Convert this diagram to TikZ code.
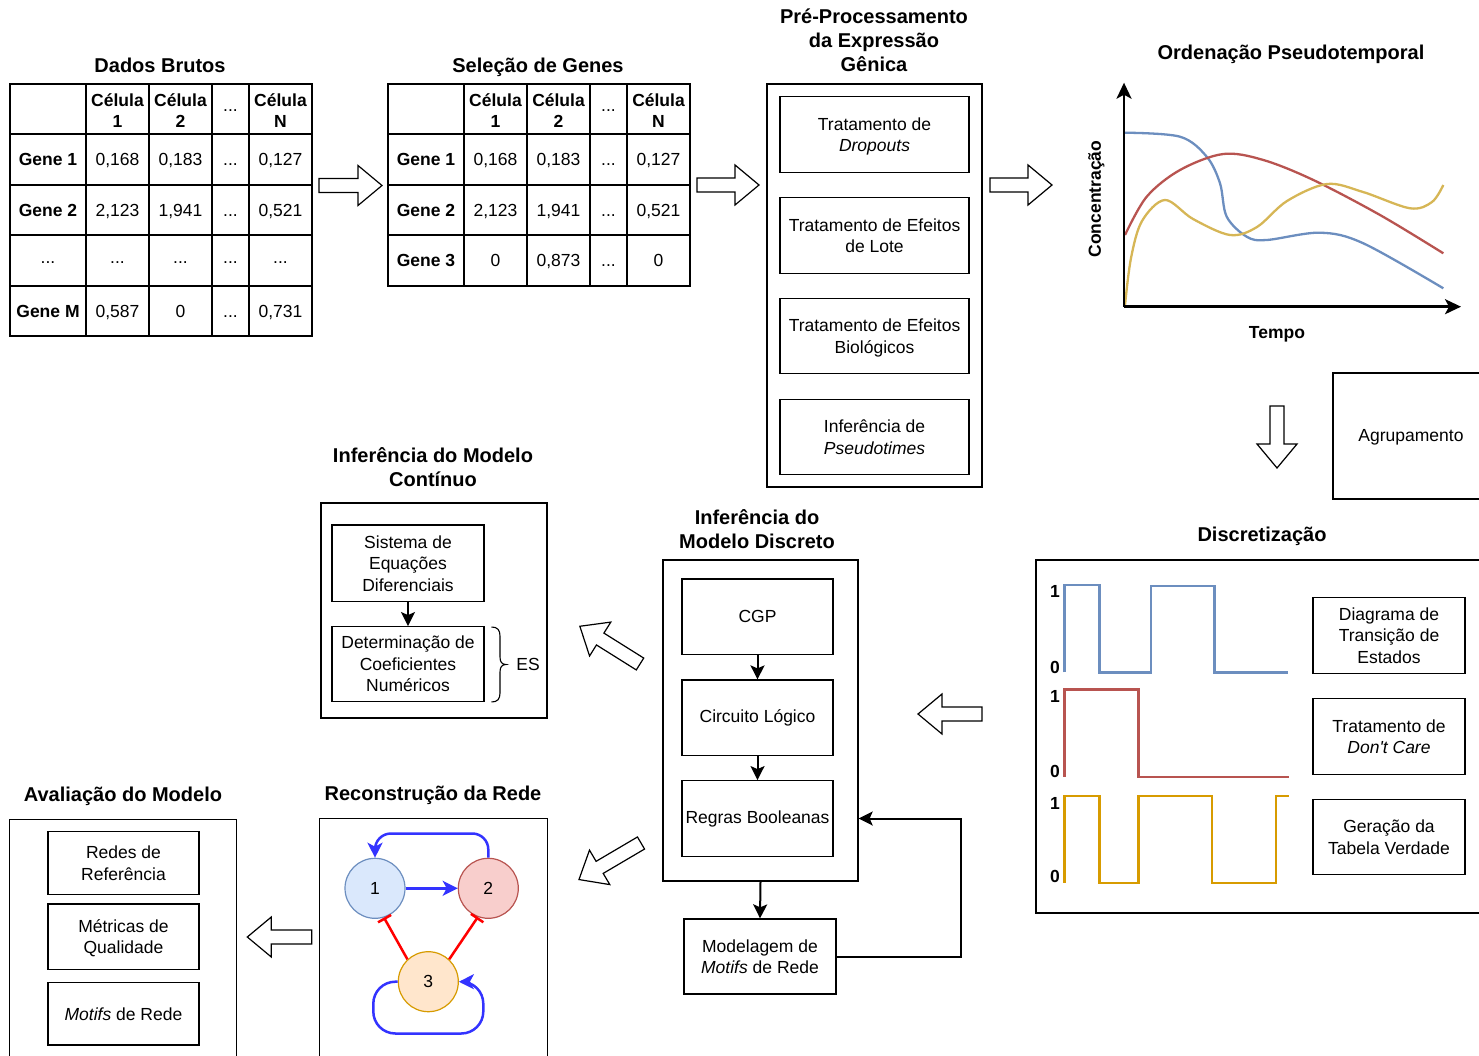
\documentclass[tikz,border=0pt]{standalone}
\usepackage{fontspec}
\setmainfont{Liberation Sans}
\usetikzlibrary{arrows.meta}

\definecolor{gblue}{HTML}{6C8EBF}
\definecolor{gred}{HTML}{B85450}
\definecolor{gyel}{HTML}{D6B656}
\definecolor{gorange}{HTML}{D79B00}
\definecolor{nfillA}{HTML}{DAE8FC}
\definecolor{nfillB}{HTML}{F8CECC}
\definecolor{nfillC}{HTML}{FFE6CC}
\definecolor{actblue}{HTML}{3333FF}
\definecolor{inhred}{HTML}{FF0000}

\tikzset{
  txt/.style={font=\fontsize{17.5}{21.5}\selectfont, align=center, inner sep=0pt},
  ttl/.style={font=\fontsize{20}{24}\selectfont\bfseries, align=center, inner sep=0pt},
  ttlone/.style={ttl, text height=14.5pt, text depth=4pt},
  box/.style={draw, line width=1.3pt, txt},
  frame/.style={draw, line width=1.3pt, inner sep=0pt},
  grid/.style={line width=1.3pt},
  cell/.style={txt, text height=12.6pt, text depth=3pt},
  hcell/.style={txt, font=\fontsize{17.5}{21}\selectfont\bfseries},
  hollow/.style={draw, line width=1.2pt, fill=white, line join=miter},
  flow/.style={line width=2pt, -{Stealth[length=14pt,width=14pt,inset=3pt]}},
  axis/.style={line width=2.5pt, -{Stealth[length=16pt,width=15pt,inset=4pt]}},
  curve/.style={line width=2.3pt, smooth, tension=0.55},
  sig/.style={line width=2.4pt, line join=miter},
  gnode/.style={circle, draw, line width=1.2pt, minimum size=60pt, txt},
  act/.style={actblue, line width=2.5pt, -{Stealth[length=15pt,width=15pt,inset=4pt]}},
  inh/.style={inhred, line width=2.5pt, -{Bar[width=15pt]}},
}

% block arrow: tail point, direction (degrees), length
\newcommand{\hollowarrow}[3]{%
  \begin{scope}[shift={#1},rotate=#2]
    \draw[hollow] (0,-7) -- ({#3-24},-7) -- ({#3-24},-20) -- (#3,0)
      -- ({#3-24},20) -- ({#3-24},7) -- (0,7) -- cycle;
  \end{scope}}

\begin{document}
\begin{tikzpicture}[x=1pt,y=-1pt]
\useasboundingbox (0,0) rectangle (1479,1056);

% ---------------- Dados Brutos ----------------
\node[ttlone] (rawttl) at (160,66.9) {Dados Brutos};
\draw[grid] (10,84) rectangle (312,336);
\foreach \x in {86,149,212,249} \draw[grid] (\x,84) -- (\x,336);
\foreach \y in {134,185,235,286} \draw[grid] (10,\y) -- (312,\y);
\node[hcell] (raw-h1) at (117.5,110.5) {Célula\\1};
\node[hcell] (raw-h2) at (180.5,110.5) {Célula\\2};
\node[cell]  (raw-h3) at (230.5,107) {...};
\node[hcell] (raw-h4) at (280.5,110.5) {Célula\\N};
\foreach \y/\r/\a/\b/\c/\d/\e in {
  161/1/{\bfseries Gene 1}/{0,168}/{0,183}/{...}/{0,127},
  211.5/2/{\bfseries Gene 2}/{2,123}/{1,941}/{...}/{0,521},
  259/3/{...}/{...}/{...}/{...}/{...},
  312.5/4/{\bfseries Gene M}/{0,587}/{0}/{...}/{0,731}}{
  \node[cell] (raw-\r-1) at (48,\y) {\a};
  \node[cell] (raw-\r-2) at (117.5,\y) {\b};
  \node[cell] (raw-\r-3) at (180.5,\y) {\c};
  \node[cell] (raw-\r-4) at (230.5,\y) {\d};
  \node[cell] (raw-\r-5) at (280.5,\y) {\e};
}

% ---------------- Seleção de Genes ----------------
\node[ttlone] (selttl) at (538,66.9) {Seleção de Genes};
\draw[grid] (388,84) rectangle (690,286);
\foreach \x in {464,527,590,627} \draw[grid] (\x,84) -- (\x,286);
\foreach \y in {134,185,235} \draw[grid] (388,\y) -- (690,\y);
\node[hcell] (sel-h1) at (495.5,110.5) {Célula\\1};
\node[hcell] (sel-h2) at (558.5,110.5) {Célula\\2};
\node[cell]  (sel-h3) at (608.5,107) {...};
\node[hcell] (sel-h4) at (658.5,110.5) {Célula\\N};
\foreach \y/\r/\a/\b/\c/\d/\e in {
  161/1/{Gene 1}/{0,168}/{0,183}/{...}/{0,127},
  211.5/2/{Gene 2}/{2,123}/{1,941}/{...}/{0,521},
  262/3/{Gene 3}/{0}/{0,873}/{...}/{0}}{
  \node[cell] (sel-\r-1) at (426,\y) {\bfseries\a};
  \node[cell] (sel-\r-2) at (495.5,\y) {\b};
  \node[cell] (sel-\r-3) at (558.5,\y) {\c};
  \node[cell] (sel-\r-4) at (608.5,\y) {\d};
  \node[cell] (sel-\r-5) at (658.5,\y) {\e};
}

% ---------------- Pré-Processamento ----------------
\node[ttl] (prettl) at (874,40) {Pré-Processamento\\da Expressão\\Gênica};
\node[frame, minimum width=215, minimum height=403] (pre) at (874.5,285.5) {};
\node[box, minimum width=189, minimum height=75.5] (pre1) at (874.5,134.5) {Tratamento de\\\smash{\textit{Dropouts}}};
\node[box, minimum width=189, minimum height=75.5] (pre2) at (874.5,235.5) {Tratamento de Efeitos\\de Lote};
\node[box, minimum width=189, minimum height=75.5] (pre3) at (874.5,336) {Tratamento de Efeitos\\\smash{Biológicos}};
\node[box, minimum width=189, minimum height=75.5] (pre4) at (874.5,437) {Inferência de\\\smash{\textit{Pseudotimes}}};

% ---------------- Ordenação Pseudotemporal ----------------
\node[ttlone] (ordttl) at (1291,53.9) {Ordenação Pseudotemporal};
\coordinate (orig) at (1124,306.7);
\coordinate (ytip) at (1124,82.7);
\coordinate (xtip) at (1461,306.7);
\draw[gblue, curve] plot coordinates {(1125,132.7) (1180,136.7) (1206.7,156.7) (1220,183.3)
  (1226.7,216.7) (1246.7,236.7) (1266.7,240) (1320,232.7) (1363.3,243.3) (1443.3,288.3)};
\draw[gred, curve] plot coordinates {(1125,235) (1146.7,196.7) (1180,170) (1223.3,154)
  (1263.3,160) (1313.3,180) (1380,215) (1443.3,253.3)};
\draw[gyel, curve] plot coordinates {(1125,305) (1131,258) (1142,221) (1165,200) (1193,219)
  (1230,235) (1257,227) (1287,201) (1327,184) (1363,192) (1410,208.3) (1432,202) (1443.3,185)};
\draw[axis] (orig) -- (ytip);
\draw[axis] (orig) -- (xtip);
\node[cell, font=\fontsize{17.5}{21}\selectfont\bfseries, rotate=90] (ylab) at (1096,199) {Concentração};
\node[cell, font=\fontsize{17.5}{21}\selectfont\bfseries] (xlab) at (1277,334) {Tempo};

% ---------------- Agrupamento ----------------
\draw[grid] (1479,373) -| (1333,499) -- (1479,499);
\node[txt] (agr) at (1411,437) {Agrupamento};

% ---------------- Discretização ----------------
\node[ttlone] (disttl) at (1262,535.9) {Discretização};
\draw[grid] (1479,560) -| (1036,913) -- (1479,913);
\draw[gblue, sig] (1064.3,672.3) -- (1064.3,585) -- (1099.3,585) -- (1099.3,672.3) -- (1151,672.3)
  -- (1151,585.7) -- (1214.3,585.7) -- (1214.3,672.3) -- (1288.3,672.3);
\draw[gred, sig] (1064.3,776.7) -- (1064.3,689.3) -- (1138.3,689.3) -- (1138.3,776.7) -- (1289.3,776.7);
\draw[gorange, sig] (1064.3,882.7) -- (1064.3,796) -- (1099.3,796) -- (1099.3,882.7) -- (1138.3,882.7)
  -- (1138.3,796) -- (1211.7,796) -- (1211.7,882.7) -- (1276,882.7) -- (1276,796) -- (1289.3,796);
\foreach \y/\v [count=\i] in {593/1, 669/0, 698/1, 773/0, 804.5/1, 878/0}
  \node[cell, font=\fontsize{17.5}{21}\selectfont\bfseries] (lvl\i) at (1055,\y) {\v};
\node[box, minimum width=152, minimum height=75.5] (dtr) at (1389,635.5) {Diagrama de\\Transição de\\Estados};
\node[box, minimum width=152, minimum height=75.5] (dcare) at (1389,736.5) {Tratamento de\\\textit{Don\textquotesingle t Care}};
\node[box, minimum width=152, minimum height=75.5] (dtab) at (1389,837) {Geração da\\Tabela Verdade};

% ---------------- Inferência do Modelo Discreto ----------------
\node[ttl] (dscttl) at (757,529.4) {Inferência do\\Modelo Discreto};
\node[frame, minimum width=195, minimum height=321] (dsc) at (760.5,720.5) {};
\node[box, minimum width=151, minimum height=75.5] (cgp) at (757.5,616.7) {CGP};
\node[box, minimum width=151, minimum height=75.5] (circ) at (757.5,717.8) {Circuito Lógico};
\node[box, minimum width=151, minimum height=75.5] (regras) at (757.5,818.5) {Regras Booleanas};
\node[box, minimum width=152, minimum height=75] (motif) at (760,956.5) {Modelagem de\\\textit{Motifs} de Rede};
\draw[flow] (cgp) -- (circ);
\draw[flow] (circ) -- (regras);
\draw[flow] (dsc.south) -- (motif.north);
\coordinate (fbk) at (961,818.5);
\draw[flow] (motif.east) -| (fbk) -- (dsc.east |- regras);

% ---------------- Inferência do Modelo Contínuo ----------------
\node[ttl] (contttl) at (433,467.4) {Inferência do Modelo\\Contínuo};
\node[frame, minimum width=226, minimum height=215] (cont) at (434,610.5) {};
\node[box, minimum width=152, minimum height=76.7] (sist) at (408,563.3) {Sistema de\\Equações\\Diferenciais};
\node[box, minimum width=152, minimum height=75] (coef) at (408,664.2) {Determinação de\\Coeficientes\\Numéricos};
\draw[flow] (sist) -- (coef);
\draw[line width=1.1pt] (491.5,627) .. controls (497.5,627) and (500,630) .. (500,636) -- (500,657)
  .. controls (500,662) and (502,664.5) .. (506,664.5)
  .. controls (502,664.5) and (500,667) .. (500,672) -- (500,693)
  .. controls (500,699) and (497.5,702) .. (491.5,702);
\node[cell] (es) at (528,666) {ES};

% ---------------- Reconstrução da Rede ----------------
\node[ttlone] (recttl) at (433,794.9) {Reconstrução da Rede};
\draw[grid] (319.5,1056) |- (547.5,818.5) -- (547.5,1056);
\node[gnode, draw=gblue, fill=nfillA] (n1) at (375,888.3) {1};
\node[gnode, draw=gred, fill=nfillB] (n2) at (488.3,888.3) {2};
\node[gnode, draw=gorange, fill=nfillC] (n3) at (428.3,981.7) {3};
\draw[act] (n1) -- (n2);
\draw[act, rounded corners=16pt] (n2.north) -- (488.3,833.5) -- (375,833.5) -- (n1.north);
\draw[act, rounded corners=22pt] (n3.west) -- (373.3,981.7) -- (373.3,1033.5) -- (483.3,1033.5)
  -- (483.3,981.7) -- (n3.east);
\draw[inh] (n3.133) -- (n1.-73);
\draw[inh] (n3.47) -- (n2.-110);

% ---------------- Avaliação do Modelo ----------------
\node[ttlone] (avttl) at (123,795.9) {Avaliação do Modelo};
\draw[grid] (9.5,1056) |- (236.5,819.5) -- (236.5,1056);
\node[box, minimum width=151, minimum height=62.5] (refn) at (123.5,863) {Redes de\\Referência};
\node[box, minimum width=151, minimum height=65.5] (metr) at (123.5,936.7) {Métricas de\\\smash{Qualidade}};
\node[box, minimum width=151, minimum height=62.3] (motv) at (123.5,1013.8) {\textit{Motifs} de Rede};

% ---------------- block arrows between stages ----------------
\hollowarrow{(319,185.5)}{0}{63}
\hollowarrow{(697,185)}{0}{62}
\hollowarrow{(990,185)}{0}{62}
\hollowarrow{(1277,406)}{270}{62}
\hollowarrow{(982,714)}{180}{64}
\hollowarrow{(640,664)}{147.9}{71}
\hollowarrow{(641,843)}{210.5}{72}
\hollowarrow{(311.7,937)}{180}{64.4}

\end{tikzpicture}
\end{document}
